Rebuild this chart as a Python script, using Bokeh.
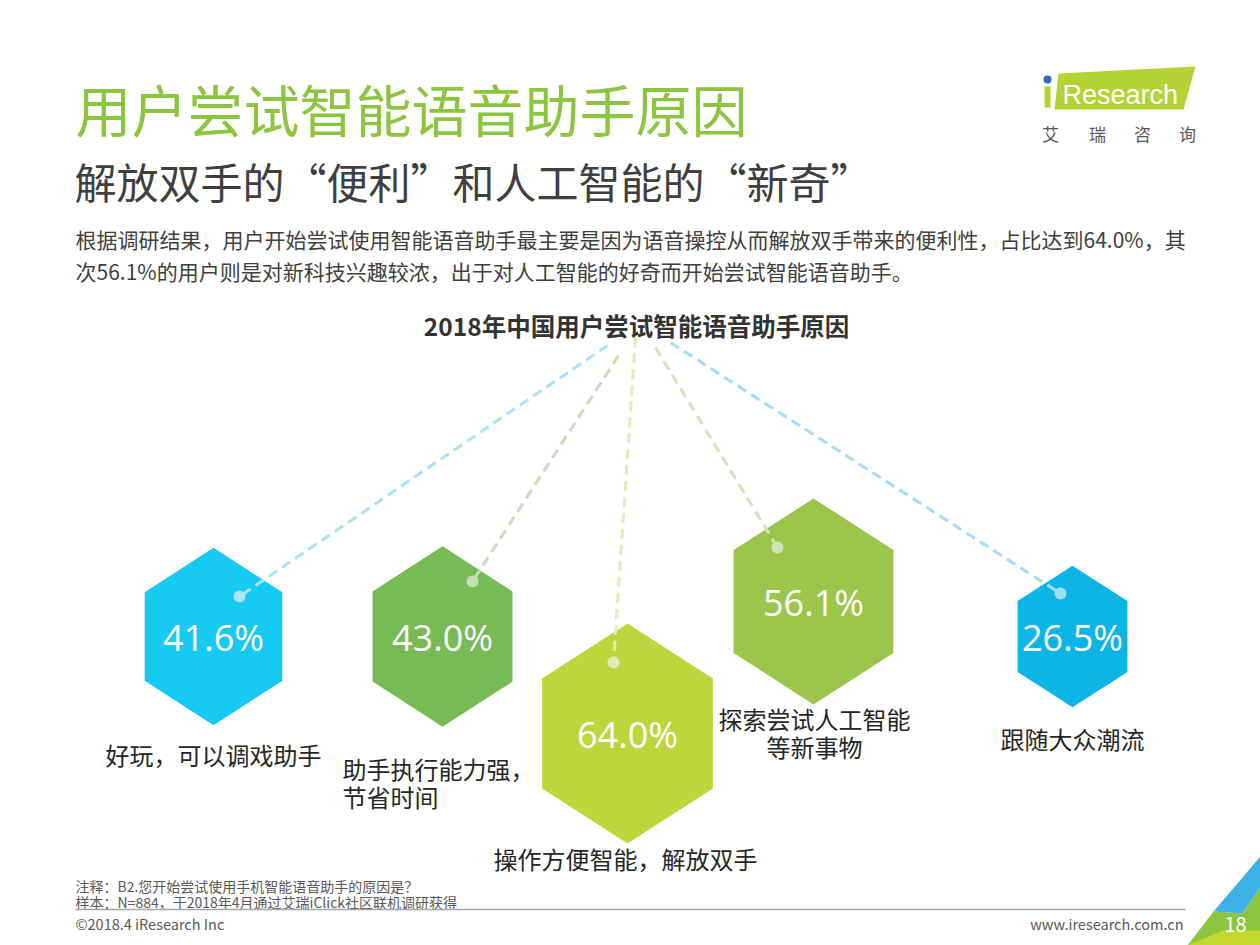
import math
from bokeh.plotting import figure
from bokeh.models import Range1d
from bokeh.core.properties import value
from bokeh.embed import file_html
from bokeh.resources import INLINE

# ---------------- data ----------------
categories = ["好玩，可以调戏助手", "助手执行能力强，节省时间", "操作方便智能，解放双手",
              "探索尝试人工智能等新事物", "跟随大众潮流"]
values = [41.6, 43.0, 64.0, 56.1, 26.5]
label_lines = [["好玩，可以调戏助手"], ["助手执行能力强，", "节省时间"], ["操作方便智能，解放双手"],
               ["探索尝试人工智能", "等新事物"], ["跟随大众潮流"]]

title = "用户尝试智能语音助手原因"
subtitle = "解放双手的“便利”和人工智能的“新奇”"
body = ["根据调研结果，用户开始尝试使用智能语音助手最主要是因为语音操控从而解放双手带来的便利性，占比达到64.0%，其",
        "次56.1%的用户则是对新科技兴趣较浓，出于对人工智能的好奇而开始尝试智能语音助手。"]
chart_title = "2018年中国用户尝试智能语音助手原因"
notes = ["注释：B2.您开始尝试使用手机智能语音助手的原因是？",
         "样本：N=884，于2018年4月通过艾瑞iClick社区联机调研获得"]
copyright_txt = "©2018.4 iResearch Inc"
website = "www.iresearch.com.cn"
page_no = "18"

# ---------------- layout / style ----------------
hex_cx = [213, 442, 627, 813, 1072]
hex_cy = [636, 636, 733, 601, 636]
hex_colors = ["#16CAF2", "#77BB55", "#BDD63B", "#9BC64B", "#0DB4E6"]
line_colors = ["#A9E3F4", "#C6DFB6", "#E2ECB4", "#D3E3B8", "#A2DDF2"]
dot_dx = [26, 30, -14, -36, -12]
dot_dy = [-40, -55, -71, -54, -43]
line_x0 = [607, 618, 635, 655, 670]
line_y0 = [345, 355, 337, 347, 342]
label_x = [213, 342, 625, 814, 1072]
label_y = [754, 768, 858, 718, 738]
label_align = ["center", "left", "center", "center", "center"]
H_SCALE = 27.5
W_RATIO = 0.776

CJK = value("Noto Sans CJK SC")

p = figure(width=1260, height=945, x_range=Range1d(0, 1260), y_range=Range1d(945, 0),
           output_backend="svg", toolbar_location=None, min_border=0,
           x_axis_location=None, y_axis_location=None)
p.grid.visible = False
p.outline_line_color = None
p.background_fill_color = "white"
p.border_fill_color = "white"

# ---------------- headings ----------------
p.text(x=[75], y=[107], text=[title], text_font=CJK, text_font_size=value("56px"),
       text_color="#8CC63F", text_align="left", text_baseline="middle")
p.text(x=[74], y=[180], text=[subtitle], text_font=CJK, text_font_size=value("42px"),
       text_color="#3F3F3F", text_align="left", text_baseline="middle")
p.text(x=[75, 75], y=[238, 270], text=body, text_font=CJK, text_font_size=value("21px"),
       text_color="#404040", text_align="left", text_baseline="middle")
p.text(x=[636], y=[325], text=[chart_title], text_font=CJK, text_font_size=value("24.5px"),
       text_font_style="bold", text_color="#333333", text_align="center", text_baseline="middle")

# ---------------- logo ----------------
p.patch(x=[1058, 1195, 1183, 1054], y=[73, 66, 109, 109], fill_color="#B5D334", line_color=None)
p.text(x=[1062], y=[94], text=["Research"], text_font=value("Liberation Sans"),
       text_font_size=value("27px"), text_color="white", text_align="left", text_baseline="middle")
p.quad(left=[1044], right=[1050], top=[86], bottom=[107], fill_color="#B5D334", line_color=None)
p.scatter(x=[1047], y=[79], size=8, marker="circle", fill_color="#2E6DB4", line_color=None)
p.text(x=[1050, 1097, 1142, 1187], y=[133] * 4, text=["艾", "瑞", "咨", "询"], text_font=CJK,
       text_font_size=value("17px"), text_color="#595959", text_align="center", text_baseline="middle")

# ---------------- hexagons ----------------
for i, v in enumerate(values):
    H = H_SCALE * math.sqrt(v)
    W = H * W_RATIO
    cx, cy = hex_cx[i], hex_cy[i]
    xs = [cx, cx + W / 2, cx + W / 2, cx, cx - W / 2, cx - W / 2]
    ys = [cy - H / 2, cy - H / 4, cy + H / 4, cy + H / 2, cy + H / 4, cy - H / 4]
    p.patch(x=xs, y=ys, fill_color=hex_colors[i], line_color=None)

# dashed connector lines and dots
for i in range(len(values)):
    dx = hex_cx[i] + dot_dx[i]
    dy = hex_cy[i] + dot_dy[i]
    p.line(x=[line_x0[i], dx], y=[line_y0[i], dy], line_color=line_colors[i],
           line_width=3, line_dash="10 6")
    p.scatter(x=[dx], y=[dy], size=12, marker="circle", fill_color=line_colors[i], line_color=None)

# percentage labels
p.text(x=hex_cx, y=[c + 1 for c in hex_cy], text=[f"{v:.1f}%" for v in values],
       text_font=value("Open Sans"), text_font_size=value("36px"), text_color="white",
       text_align="center", text_baseline="middle")

# category labels
for i, lines in enumerate(label_lines):
    for j, t in enumerate(lines):
        p.text(x=[label_x[i]], y=[label_y[i] + 28 * j], text=[t], text_font=CJK,
               text_font_size=value("24px"), text_color="#262626",
               text_align=label_align[i], text_baseline="middle")

# ---------------- footer ----------------
p.text(x=[75, 75], y=[885, 901], text=notes, text_font=CJK, text_font_size=value("14px"),
       text_color="#595959", text_align="left", text_baseline="middle")
p.line(x=[75, 1185], y=[909, 909], line_color="#A6A6A6", line_width=1.5)
p.text(x=[75], y=[923], text=[copyright_txt], text_font=CJK, text_font_size=value("14.5px"),
       text_color="#595959", text_align="left", text_baseline="middle")
p.text(x=[1183], y=[923], text=[website], text_font=CJK, text_font_size=value("14.5px"),
       text_color="#595959", text_align="right", text_baseline="middle")

# corner decoration
p.patch(x=[1187, 1213, 1242, 1260, 1260], y=[945, 911, 913, 886, 945], fill_color="#8CC63F", line_color=None)
p.patch(x=[1187, 1222, 1260, 1260], y=[945, 930, 930, 945], fill_color="#C3D82E", line_color=None)
p.patch(x=[1213, 1260, 1260, 1242], y=[911, 856, 886, 913], fill_color="#3EB1E6", line_color=None)
p.text(x=[1235], y=[924], text=[page_no], text_font=CJK, text_font_size=value("20px"),
       text_color="white", text_align="center", text_baseline="middle")

open("out.html", "w").write(file_html(p, INLINE))
